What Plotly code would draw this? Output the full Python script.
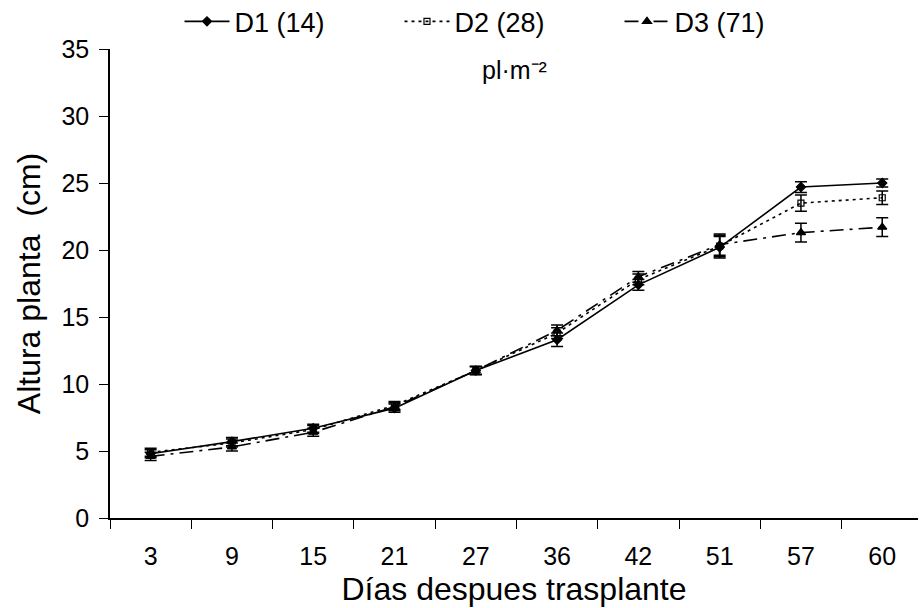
import plotly.graph_objects as go

days = ["3", "9", "15", "21", "27", "36", "42", "51", "57", "60"]
d1 = [4.8, 5.7, 6.7, 8.2, 11.0, 13.3, 17.4, 20.2, 24.7, 25.0]
d2 = [4.9, 5.6, 6.6, 8.4, 11.0, 13.8, 17.8, 20.3, 23.5, 23.9]
d3 = [4.6, 5.3, 6.4, 8.3, 11.0, 14.0, 18.0, 20.4, 21.3, 21.7]
e1 = [0.3, 0.3, 0.3, 0.3, 0.3, 0.5, 0.4, 0.8, 0.4, 0.3]
e2 = [0.3, 0.3, 0.3, 0.3, 0.3, 0.4, 0.4, 0.8, 0.6, 0.5]
e3 = [0.3, 0.3, 0.3, 0.3, 0.3, 0.4, 0.4, 0.8, 0.7, 0.7]
names = ["D1 (14)", "D2 (28)", "D3 (71)"]
y_ticks = [0, 5, 10, 15, 20, 25, 30, 35]

FONT = "Liberation Sans, Arial, sans-serif"

fig = go.Figure()
specs = [
    (d1, e1, names[0], "solid", "diamond", 7),
    (d2, e2, names[1], "3px,4px", "square-open", 6),
    (d3, e3, names[2], "14px,6px,3px,6px", "triangle-up", 8),
]
for ys, es, nm, dash, sym, sz in specs:
    fig.add_trace(go.Scatter(
        x=days, y=ys, name=nm, mode="lines+markers",
        line=dict(color="black", width=1.6, dash=dash),
        marker=dict(symbol=sym, size=sz, color="black", line=dict(color="black", width=1.2)),
        error_y=dict(type="data", array=es, visible=True, color="black", thickness=1.5, width=6),
    ))

fig.add_annotation(text="pl·m⁻²", x=0.5, y=0.955, xref="paper", yref="paper",
                   xanchor="center", yanchor="middle", showarrow=False,
                   font=dict(size=25, color="black", family=FONT))

fig.update_layout(
    width=920, height=608,
    margin=dict(l=110, r=2, t=49, b=90, autoexpand=False),
    paper_bgcolor="white", plot_bgcolor="white",
    font=dict(family=FONT, color="black"),
    legend=dict(orientation="h", x=0.086, y=1.058, xanchor="left", yanchor="middle",
                font=dict(size=27, family=FONT, color="black"), bgcolor="rgba(0,0,0,0)",
                entrywidth=160, entrywidthmode="pixels", itemwidth=45),
    showlegend=True,
)
fig.update_xaxes(
    type="category", range=[-0.5, 9.44], tickson="boundaries",
    ticks="outside", ticklen=9, tickwidth=1.3, tickcolor="black",
    showline=True, linecolor="black", linewidth=1.5, showgrid=False, zeroline=False,
    tickfont=dict(size=25, family=FONT, color="black"), ticklabelstandoff=15,
    title=dict(text="Días despues trasplante", font=dict(size=32, family=FONT, color="black"), standoff=9),
)
fig.update_yaxes(
    range=[0, 35], tickvals=y_ticks, ticks="outside", ticklen=9, tickwidth=1.3, tickcolor="black",
    showline=True, linecolor="black", linewidth=1.5, showgrid=False, zeroline=False,
    tickfont=dict(size=25, family=FONT, color="black"), ticklabelstandoff=5,
    title=dict(text="Altura planta  (cm)", font=dict(size=32, family=FONT, color="black"), standoff=11),
)

fig.write_html("out.html")
